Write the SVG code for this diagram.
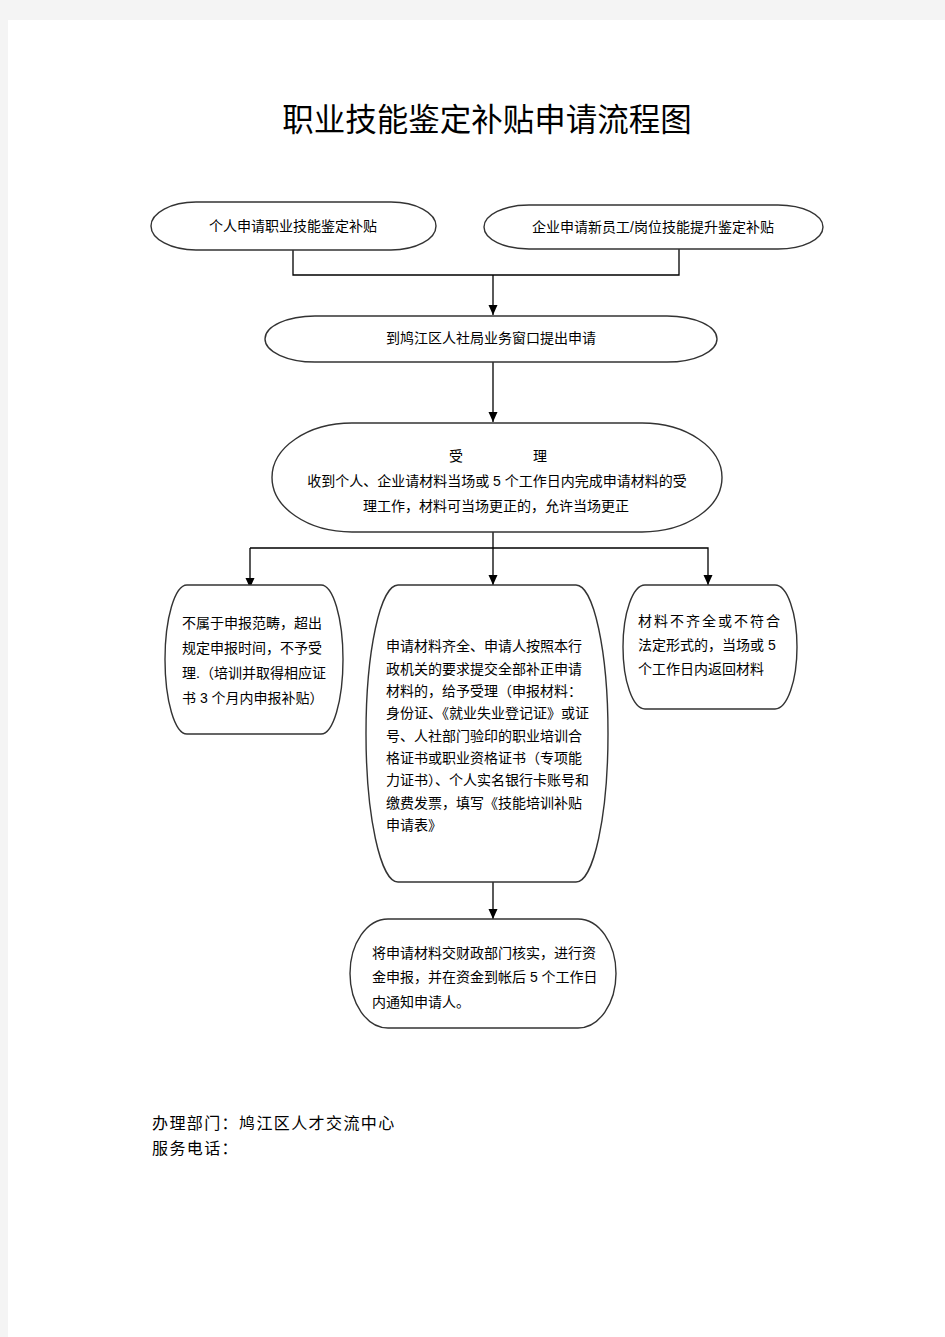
<svg xmlns="http://www.w3.org/2000/svg" width="945" height="1337" viewBox="0 0 945 1337">
<defs>
<style>
.bg{fill:#f4f4f4}
.page{fill:#ffffff}
.node{fill:#ffffff;stroke:#333333;stroke-width:1.4}
.t{font-family:"Liberation Sans","Noto Sans CJK SC",sans-serif;font-size:14px;fill:#000000;dominant-baseline:central}
.c{text-anchor:middle}
.title{font-family:"Liberation Serif","Noto Sans CJK SC",serif;font-size:31.5px;fill:#000000;dominant-baseline:central;text-anchor:middle}
.foot{font-family:"Liberation Sans","Noto Sans CJK SC",sans-serif;font-size:16px;letter-spacing:1.4px;fill:#000000;dominant-baseline:central}
.conn{fill:none;stroke:#000000;stroke-width:1.3}
</style>
<marker id="arr" markerUnits="userSpaceOnUse" markerWidth="10" markerHeight="10" refX="10" refY="5" orient="auto">
<path d="M0,0.5 L10,5 L0,9.5 z" fill="#000000"/>
</marker>
</defs>
<rect class="bg" x="0" y="0" width="945" height="1337"/>
<rect class="page" x="8" y="20" width="937" height="1317"/>
<text class="title" x="487" y="120">职业技能鉴定补贴申请流程图</text>

<g id="connectors">
<polyline class="conn" points="293,250 293,275 679,275 679,249"/>
<line class="conn" x1="493" y1="275" x2="493" y2="315" marker-end="url(#arr)"/>
<line class="conn" x1="493" y1="362" x2="493" y2="422" marker-end="url(#arr)"/>
<line class="conn" x1="493" y1="532" x2="493" y2="585" marker-end="url(#arr)"/>
<polyline class="conn" points="250,548 708,548 708,585" marker-end="url(#arr)"/>
<line class="conn" x1="250" y1="548" x2="250" y2="588" marker-end="url(#arr)"/>
<line class="conn" x1="493" y1="882" x2="493" y2="919" marker-end="url(#arr)"/>
</g>

<g id="node1">
<rect class="node" x="151" y="202" width="285" height="48" rx="45" ry="24"/>
<text class="t c" x="293" y="226">个人申请职业技能鉴定补贴</text>
</g>
<g id="node2">
<rect class="node" x="484" y="205" width="339" height="44" rx="45" ry="22"/>
<text class="t c" x="653" y="227">企业申请新员工/岗位技能提升鉴定补贴</text>
</g>
<g id="node3">
<rect class="node" x="265" y="316" width="452" height="46" rx="50" ry="23"/>
<text class="t c" x="491" y="338">到鸠江区人社局业务窗口提出申请</text>
</g>
<g id="node4">
<rect class="node" x="272" y="423" width="450" height="109" rx="80" ry="54.5"/>
<text class="t c" x="456" y="456">受</text>
<text class="t c" x="540" y="456">理</text>
<text class="t c" x="497" y="481">收到个人、企业请材料当场或 5 个工作日内完成申请材料的受</text>
<text class="t c" x="496" y="506">理工作，材料可当场更正的，允许当场更正</text>
</g>
<g id="node5">
<rect class="node" x="165" y="585" width="178" height="149" rx="22" ry="74.5"/>
<text class="t" x="182" y="623">不属于申报范畴，超出</text>
<text class="t" x="182" y="648">规定申报时间，不予受</text>
<text class="t" x="182" y="673">理.（培训并取得相应证</text>
<text class="t" x="182" y="698">书 3 个月内申报补贴）</text>
</g>
<g id="node6">
<rect class="node" x="366" y="585" width="242" height="297" rx="32" ry="148.5"/>
<text class="t" x="386" y="646">申请材料齐全、申请人按照本行</text>
<text class="t" x="386" y="669">政机关的要求提交全部补正申请</text>
<text class="t" x="386" y="691">材料的，给予受理（申报材料：</text>
<text class="t" x="386" y="713">身份证、《就业失业登记证》或证</text>
<text class="t" x="386" y="736">号、人社部门验印的职业培训合</text>
<text class="t" x="386" y="758">格证书或职业资格证书（专项能</text>
<text class="t" x="386" y="780">力证书）、个人实名银行卡账号和</text>
<text class="t" x="386" y="803">缴费发票，填写《技能培训补贴</text>
<text class="t" x="386" y="825">申请表》</text>
</g>
<g id="node7">
<rect class="node" x="623" y="585" width="174" height="124" rx="22" ry="62"/>
<text class="t" x="638" y="621" letter-spacing="2">材料不齐全或不符合</text>
<text class="t" x="638" y="645">法定形式的，当场或 5</text>
<text class="t" x="638" y="669">个工作日内返回材料</text>
</g>
<g id="node8">
<rect class="node" x="350" y="919" width="266" height="109" rx="38" ry="54.5"/>
<text class="t" x="372" y="953">将申请材料交财政部门核实，进行资</text>
<text class="t" x="372" y="977">金申报，并在资金到帐后 5 个工作日</text>
<text class="t" x="372" y="1002">内通知申请人。</text>
</g>

<text class="foot" x="152" y="1123">办理部门：鸠江区人才交流中心</text>
<text class="foot" x="152" y="1148">服务电话：</text>
</svg>
